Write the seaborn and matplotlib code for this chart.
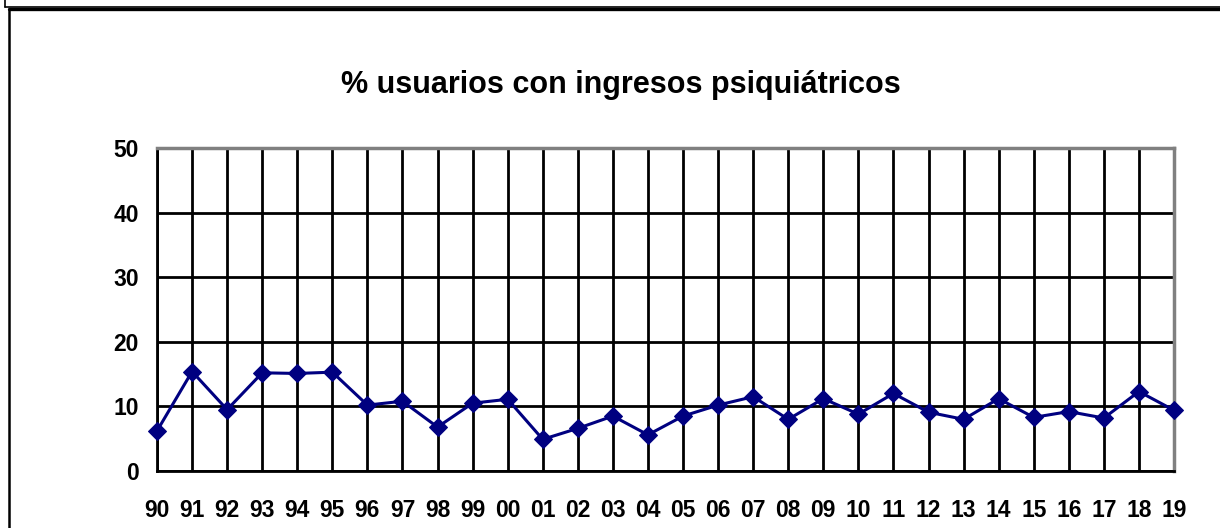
import matplotlib
matplotlib.use("Agg")
import matplotlib.pyplot as plt
from matplotlib.lines import Line2D
import seaborn as sns
import pandas as pd

years = ["90", "91", "92", "93", "94", "95", "96", "97", "98", "99",
         "00", "01", "02", "03", "04", "05", "06", "07", "08", "09",
         "10", "11", "12", "13", "14", "15", "16", "17", "18", "19"]
values = [6.2, 15.4, 9.5, 15.2, 15.1, 15.3, 10.2, 10.8, 6.8, 10.5,
          11.1, 4.9, 6.6, 8.5, 5.6, 8.5, 10.2, 11.5, 8.0, 11.2,
          8.8, 12.0, 9.1, 8.0, 11.2, 8.3, 9.2, 8.2, 12.3, 9.4]
title = "% usuarios con ingresos psiquiátricos"
yticks = [0, 10, 20, 30, 40, 50]

sns.set_style("white")
plt.rcParams['font.family'] = ['Liberation Sans', 'DejaVu Sans']
plt.rcParams['text.color'] = 'black'
plt.rcParams['xtick.color'] = 'black'
plt.rcParams['ytick.color'] = 'black'

df = pd.DataFrame({"year": years, "value": values})

fig = plt.figure(figsize=(12.2, 5.28), dpi=100)
ax = fig.add_axes([157/1220, 1 - 471/528, (1174 - 157)/1220, (471 - 148)/528])

sns.lineplot(data=df, x="year", y="value", sort=False, ax=ax,
             color="#000080", linewidth=2.2, marker="D", markersize=9.5,
             markeredgecolor="#000080", markerfacecolor="#000080",
             zorder=5, clip_on=False)

ax.set_xlim(0, len(years) - 1)
ax.set_ylim(0, 50)
ax.set_yticks(yticks)
ax.set_xticks(range(len(years)))
ax.set_xticklabels(years)
ax.set_xlabel("")
ax.set_ylabel("")

ax.grid(True, color="black", linewidth=2.0, zorder=1)
ax.set_axisbelow(True)

for s in ["left", "bottom"]:
    ax.spines[s].set_color("black")
    ax.spines[s].set_linewidth(2.0)
for s in ["top", "right"]:
    ax.spines[s].set_color("#808080")
    ax.spines[s].set_linewidth(2.5)
    ax.spines[s].set_visible(True)

ax.tick_params(axis="both", which="both", direction="out", length=7, width=2,
               color="black", labelcolor="black", labelsize=16.5)
ax.tick_params(axis="x", pad=13.5)
ax.tick_params(axis="y", pad=6)
for lbl in ax.get_xticklabels() + ax.get_yticklabels():
    lbl.set_fontweight("bold")

fig.text(621/1220, 1 - 85/528, title, ha="center", va="center",
         fontsize=22, fontweight="bold", color="black")

# outer frame lines
W, H = 1220, 528
def fl(x0, y0, x1, y1, lw):
    fig.add_artist(Line2D([x0 / W, x1 / W], [1 - y0 / H, 1 - y1 / H],
                          transform=fig.transFigure, color="black", linewidth=lw))
fl(5, 0, 5, 6.5, 1.2)
fl(5, 6.5, W, 6.5, 1.2)
fl(9, 9, W, 9, 2.4)
fl(9, 9, 9, H, 1.8)

fig.savefig("out.png", dpi=100)
